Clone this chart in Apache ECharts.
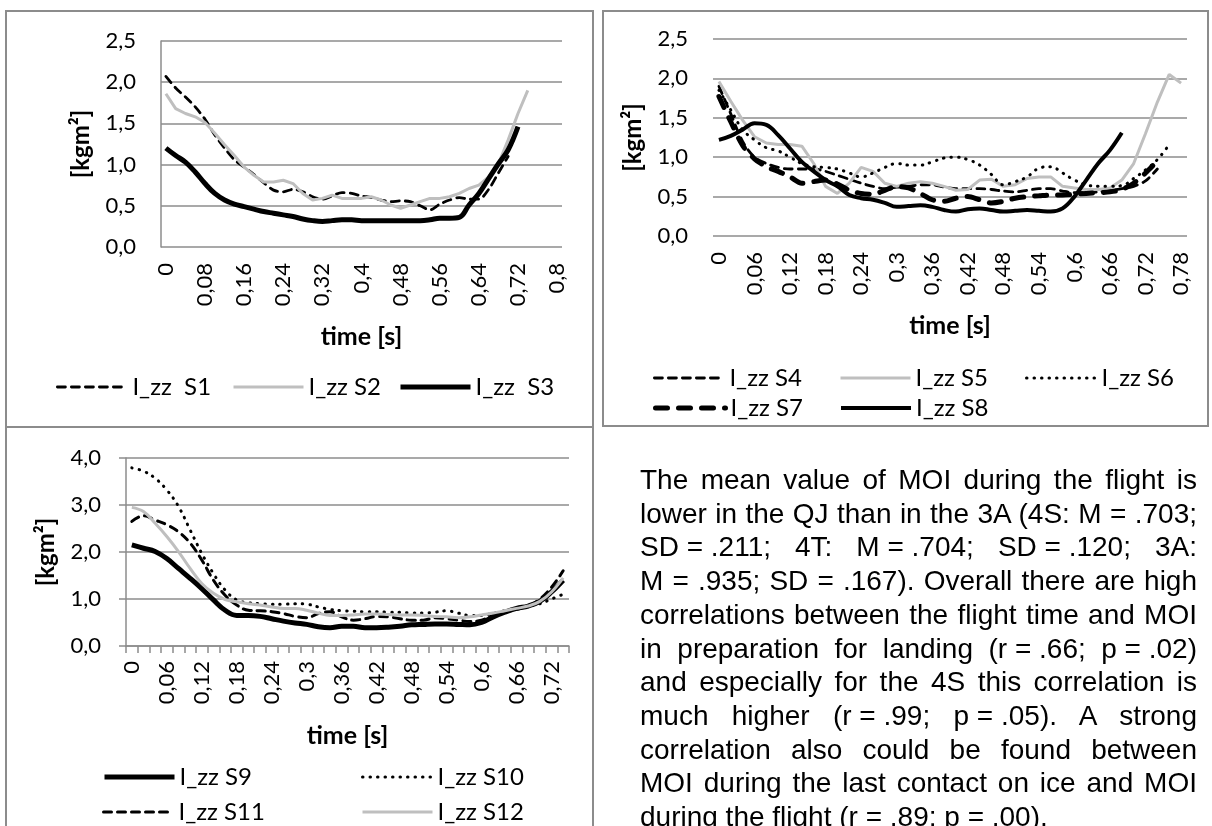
<!DOCTYPE html>
<html>
<head>
<meta charset="utf-8">
<script src="https://cdn.jsdelivr.net/npm/echarts@6/dist/echarts.min.js"></script>
<style>
  body { margin: 0; background: #fff; }
  #chart { position: absolute; left: 0; top: 0; width: 1212px; height: 826px; }
  #note {
    position: absolute; left: 640px; top: 463px; width: 557px;
    font-family: 'Liberation Sans', Arial, sans-serif; font-size: 28px;
    line-height: 33.7px; color: #000;
  }
  #note div { text-align: justify; text-align-last: justify; }
  #note div.last { text-align-last: left; }
  #note span { display: inline-block; }
</style>
</head>
<body>
<div id="chart"></div>
<div id="note">
  <div>The mean value of MOI during the flight is</div>
  <div>lower in the QJ than in the 3A (4S: M = .703;</div>
  <div><span>SD = .211;</span> 4T: <span>M = .704;</span> <span>SD = .120;</span> 3A:</div>
  <div>M = .935; SD = .167). Overall there are high</div>
  <div>correlations between the flight time and MOI</div>
  <div>in preparation for landing <span>(r = .66;</span> <span>p = .02)</span></div>
  <div>and especially for the 4S this correlation is</div>
  <div>much higher <span>(r = .99;</span> <span>p = .05).</span> A strong</div>
  <div>correlation also could be found between</div>
  <div>MOI during the last contact on ice and MOI</div>
  <div class="last">during the flight (r = .89; p = .00).</div>
</div>
<script>
// time categories [s]
var time1 = ['0', '0,02', '0,04', '0,06', '0,08', '0,1', '0,12', '0,14', '0,16', '0,18',
  '0,2', '0,22', '0,24', '0,26', '0,28', '0,3', '0,32', '0,34', '0,36', '0,38',
  '0,4', '0,42', '0,44', '0,46', '0,48', '0,5', '0,52', '0,54', '0,56', '0,58',
  '0,6', '0,62', '0,64', '0,66', '0,68', '0,7', '0,72', '0,74', '0,76', '0,78', '0,8']
var time2 = time1.slice(0, 40)
var time3 = time1.slice(0, 38)

// I_zz [kgm²], top left
var s1 = [2.07, 1.93, 1.82, 1.70, 1.55, 1.36, 1.20, 1.06, 0.97, 0.88, 0.78, 0.69, 0.67, 0.70, 0.67, 0.61, 0.58, 0.62,
  0.66, 0.65, 0.62, 0.60, 0.57, 0.55, 0.56, 0.55, 0.50, 0.45, 0.52, 0.57, 0.60, 0.58, 0.58, 0.70, 0.90, 1.10]
var s2 = [1.86, 1.68, 1.62, 1.58, 1.51, 1.38, 1.24, 1.11, 0.97, 0.87, 0.79, 0.79, 0.81, 0.77, 0.65, 0.57, 0.59, 0.63,
  0.59, 0.59, 0.59, 0.61, 0.57, 0.51, 0.47, 0.51, 0.55, 0.59, 0.59, 0.61, 0.65, 0.71, 0.75, 0.85, 1.01, 1.30, 1.62, 1.90]
var s3 = [1.20, 1.11, 1.03, 0.91, 0.77, 0.65, 0.57, 0.52, 0.49, 0.46, 0.43, 0.41, 0.39, 0.37, 0.34, 0.32, 0.31, 0.32,
  0.33, 0.33, 0.32, 0.32, 0.32, 0.32, 0.32, 0.32, 0.32, 0.33, 0.35, 0.35, 0.36, 0.51, 0.65, 0.83, 1.01, 1.18, 1.46]

// top right
var s4 = [1.90, 1.55, 1.20, 1.00, 0.92, 0.87, 0.85, 0.85, 0.85, 0.82, 0.77, 0.72, 0.67, 0.63, 0.60, 0.62, 0.63, 0.65,
  0.65, 0.62, 0.60, 0.60, 0.60, 0.59, 0.57, 0.56, 0.58, 0.60, 0.60, 0.57, 0.55, 0.55, 0.56, 0.58, 0.60, 0.63, 0.70, 0.85]
var s5 = [1.96, 1.71, 1.47, 1.26, 1.18, 1.16, 1.16, 1.14, 0.92, 0.63, 0.54, 0.67, 0.87, 0.82, 0.67, 0.63, 0.67, 0.69,
  0.67, 0.63, 0.58, 0.59, 0.71, 0.72, 0.63, 0.65, 0.73, 0.75, 0.75, 0.63, 0.61, 0.59, 0.59, 0.61, 0.71, 0.92, 1.30,
  1.70, 2.05, 1.94]
var s6 = [1.85, 1.60, 1.35, 1.22, 1.12, 1.08, 1.00, 0.92, 0.88, 0.87, 0.85, 0.80, 0.75, 0.80, 0.87, 0.92, 0.90, 0.90,
  0.94, 0.99, 1.00, 0.97, 0.90, 0.78, 0.65, 0.69, 0.75, 0.86, 0.88, 0.80, 0.71, 0.65, 0.63, 0.63, 0.64, 0.73, 0.84,
  0.97, 1.16]
var s7 = [1.77, 1.45, 1.15, 0.98, 0.88, 0.82, 0.75, 0.67, 0.69, 0.71, 0.66, 0.58, 0.54, 0.53, 0.58, 0.63, 0.61, 0.54,
  0.46, 0.44, 0.48, 0.50, 0.46, 0.42, 0.44, 0.48, 0.50, 0.51, 0.52, 0.52, 0.53, 0.54, 0.55, 0.56, 0.59, 0.67, 0.80, 0.95]
var s8 = [1.22, 1.27, 1.35, 1.43, 1.41, 1.28, 1.11, 0.94, 0.82, 0.71, 0.63, 0.52, 0.48, 0.46, 0.42, 0.37, 0.38, 0.39,
  0.37, 0.33, 0.31, 0.34, 0.35, 0.33, 0.31, 0.32, 0.33, 0.32, 0.31, 0.35, 0.50, 0.71, 0.92, 1.09, 1.31]

// bottom left
var s9 = [2.15, 2.08, 2.01, 1.86, 1.65, 1.44, 1.22, 0.98, 0.76, 0.65, 0.65, 0.63, 0.58, 0.53, 0.49, 0.46, 0.41, 0.39,
  0.42, 0.42, 0.39, 0.39, 0.40, 0.42, 0.45, 0.46, 0.47, 0.47, 0.46, 0.45, 0.50, 0.62, 0.72, 0.80, 0.85, 0.95, 1.15, 1.40]
var s10 = [3.79, 3.72, 3.57, 3.32, 2.97, 2.47, 1.97, 1.54, 1.19, 0.98, 0.92, 0.90, 0.89, 0.89, 0.90, 0.89, 0.83, 0.78,
  0.75, 0.74, 0.73, 0.73, 0.72, 0.72, 0.70, 0.70, 0.72, 0.75, 0.70, 0.65, 0.65, 0.70, 0.75, 0.80, 0.85, 0.90, 1.00, 1.10]
var s11 = [2.65, 2.77, 2.68, 2.58, 2.43, 2.19, 1.83, 1.40, 1.08, 0.87, 0.76, 0.75, 0.73, 0.69, 0.63, 0.60, 0.69, 0.73,
  0.62, 0.55, 0.58, 0.63, 0.62, 0.58, 0.55, 0.55, 0.60, 0.58, 0.55, 0.52, 0.55, 0.65, 0.72, 0.78, 0.85, 1.00, 1.25, 1.60]
var s12 = [2.95, 2.86, 2.61, 2.33, 2.01, 1.65, 1.33, 1.12, 0.99, 0.94, 0.90, 0.87, 0.83, 0.80, 0.80, 0.76, 0.70, 0.65,
  0.65, 0.66, 0.68, 0.68, 0.67, 0.66, 0.66, 0.65, 0.63, 0.62, 0.60, 0.62, 0.66, 0.70, 0.75, 0.80, 0.85, 0.95, 1.15, 1.45]

var FONT = 'Lato'
var GRID_GRAY = '#8c8c8c'
var LIGHT = '#bfbfbf'

var comma = function (v) { return v.toFixed(1).replace('.', ',') }

function xAxisFor (idx, cats, every, withTicks) {
  return {
    type: 'category', gridIndex: idx, data: cats, boundaryGap: true,
    axisLine: { show: withTicks, lineStyle: { color: GRID_GRAY, width: 1.5 } },
    axisTick: { show: withTicks, interval: 0, length: 7, lineStyle: { color: GRID_GRAY, width: 1.5 } },
    axisLabel: { interval: every - 1, rotate: 90, margin: withTicks ? 15 : 16, color: '#000', fontFamily: FONT, fontSize: 22 },
    name: 'time [s]', nameLocation: 'middle', nameGap: 77,
    nameTextStyle: { color: '#000', fontFamily: FONT, fontSize: 25, fontWeight: 'bold' }
  }
}

function yAxisFor (idx, max, step, line, ticks) {
  return {
    type: 'value', gridIndex: idx, min: 0, max: max, interval: step,
    axisLine: { show: line, lineStyle: { color: GRID_GRAY, width: 1.5 } },
    axisTick: { show: ticks, length: 7, lineStyle: { color: GRID_GRAY, width: 1.5 } },
    splitLine: { lineStyle: { color: GRID_GRAY, width: 1.5 } },
    axisLabel: { formatter: comma, margin: 25, color: '#000', fontFamily: FONT, fontSize: 22 },
    name: '[kgm²]', nameLocation: 'middle', nameRotate: 90, nameGap: 68,
    nameTextStyle: { color: '#000', fontFamily: FONT, fontSize: 24, fontWeight: 'bold' }
  }
}

function line (name, idx, data, color, width, dash, smooth) {
  return {
    name: name, type: 'line', xAxisIndex: idx, yAxisIndex: idx, data: data,
    symbol: 'none', smooth: smooth, animation: false,
    lineStyle: { color: color, width: width, type: dash || 'solid', cap: dash ? 'round' : 'butt' },
    itemStyle: { color: color }
  }
}

var dots = [0.5, 7]
var shortDash = [8, 6]
var longDash = [12, 11]

var series = [
  line('I_zz  S1', 0, s1, '#000', 2.8, shortDash, 0.3),
  line('I_zz S2', 0, s2, LIGHT, 3, null, false),
  line('I_zz  S3', 0, s3, '#000', 5, null, 0.4),
  line('I_zz S4', 1, s4, '#000', 2.8, shortDash, 0.3),
  line('I_zz S5', 1, s5, LIGHT, 3, null, false),
  line('I_zz S6', 1, s6, '#000', 3, dots, 0.4),
  line('I_zz S7', 1, s7, '#000', 5, longDash, 0.3),
  line('I_zz S8', 1, s8, '#000', 4, null, 0.4),
  line('I_zz S9', 2, s9, '#000', 5, null, 0.4),
  line('I_zz S10', 2, s10, '#000', 3, dots, 0.4),
  line('I_zz S11', 2, s11, '#000', 3, shortDash, 0.4),
  line('I_zz S12', 2, s12, LIGHT, 3, null, 0.4)
]

// where each legend entry sits: name, line start x, row centre y
var legendSpots = [
  ['I_zz  S1', 56, 387], ['I_zz S2', 232, 387], ['I_zz  S3', 398, 387],
  ['I_zz S4', 653, 378], ['I_zz S5', 839, 378], ['I_zz S6', 1025, 378],
  ['I_zz S7', 653, 408], ['I_zz S8', 839, 408],
  ['I_zz S9', 102, 777], ['I_zz S10', 361, 777],
  ['I_zz S11', 102, 812], ['I_zz S12', 361, 812]
]
var legends = legendSpots.map(function (l) {
  return {
    data: [l[0]], left: l[1], top: l[2] - 14, padding: 0,
    itemWidth: 70, itemHeight: 28, selectedMode: false,
    itemStyle: { opacity: 0, borderWidth: 0 },
    lineStyle: { width: 'inherit' },
    textStyle: { color: '#000', fontFamily: FONT, fontSize: 24, lineHeight: 28 }
  }
})

var frame = function (x, y, w, h) {
  return { type: 'rect', shape: { x: x, y: y, width: w, height: h }, style: { fill: 'none', stroke: GRID_GRAY, lineWidth: 2 }, silent: true }
}

var chart = echarts.init(document.getElementById('chart'))
chart.setOption({
  animation: false,
  graphic: [frame(6, 11, 587, 416), frame(603, 11, 605, 415), frame(6, 427, 587, 420)],
  grid: [
    { left: 161, top: 41, width: 401, height: 206 },
    { left: 713, top: 39, width: 474, height: 197 },
    { left: 126, top: 458, width: 443, height: 188 }
  ],
  xAxis: [xAxisFor(0, time1, 4, false), xAxisFor(1, time2, 3, false), xAxisFor(2, time3, 3, true)],
  yAxis: [yAxisFor(0, 2.5, 0.5, true, false), yAxisFor(1, 2.5, 0.5, false, false), yAxisFor(2, 4, 1, true, true)],
  legend: legends,
  series: series
})
</script>
</body>
</html>
